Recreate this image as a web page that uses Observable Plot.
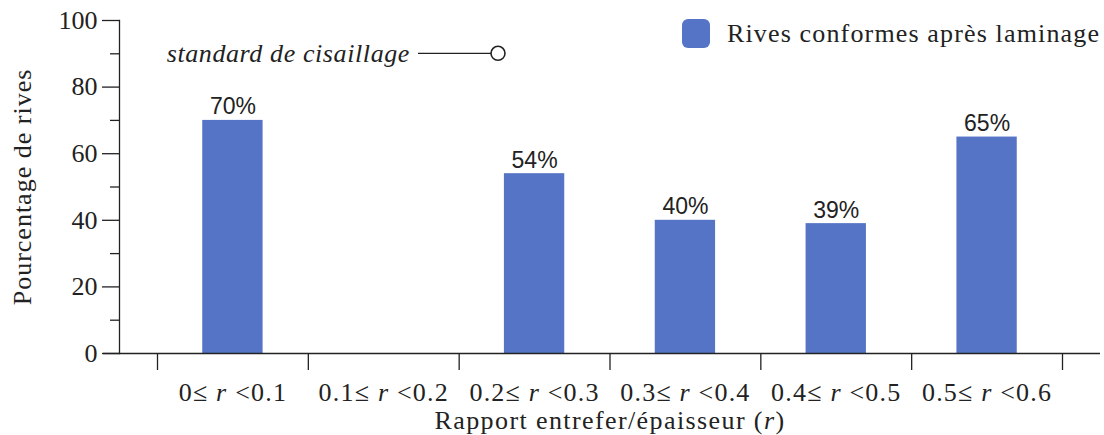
<!DOCTYPE html>
<html><head><meta charset="utf-8">
<script src="https://cdn.jsdelivr.net/npm/d3@7"></script>
<script src="https://cdn.jsdelivr.net/npm/@observablehq/plot@0.6"></script>
<style>
body{margin:0;background:#fff;}
#chart{width:1104px;height:435px;}
#chart svg text{white-space:pre;}
</style></head><body><div id="chart"></div>
<script>
const categories = ["0≤ r <0.1","0.1≤ r <0.2","0.2≤ r <0.3","0.3≤ r <0.4","0.4≤ r <0.5","0.5≤ r <0.6"];
const values = [70, null, 54, 40, 39, 65];
const valueLabels = ["70%", "", "54%", "40%", "39%", "65%"];
const yTicks = [0, 20, 40, 60, 80, 100];
const yMinorTicks = [10, 30, 50, 70, 90];
const seriesName = "Rives conformes après laminage";
const annotationName = "standard de cisaillage";
const annotationValue = 90;
const xLabel = "Rapport entrefer/épaisseur (r)";
const yLabel = "Pourcentage de rives";

const BLUE = "#5574c5";
const INK = "#222";
const SERIF = "'Liberation Serif', 'DejaVu Serif', serif";
const SANS = "'Liberation Sans', Arial, sans-serif";

const data = categories.map((c, i) => ({cat: c, value: values[i], label: valueLabels[i]}));
const barData = data.filter(d => d.value != null);

const xRange = [157, 1062];
const step = (xRange[1] - xRange[0]) / categories.length;

function legendMark(index, scales, values, dims) {
  const g = d3.create("svg:g");
  const ay = scales.y(annotationValue);
  g.append("text").attr("x", 410).attr("y", ay).attr("dy", "0.32em")
    .attr("text-anchor", "end").attr("font-family", SERIF).attr("font-style", "italic")
    .attr("font-size", 26).attr("letter-spacing", 0.6).attr("fill", INK).text(annotationName);
  g.append("line").attr("x1", 418).attr("x2", 491).attr("y1", ay).attr("y2", ay)
    .attr("stroke", INK).attr("stroke-width", 1.3);
  g.append("circle").attr("cx", 498).attr("cy", ay).attr("r", 7)
    .attr("fill", "white").attr("stroke", INK).attr("stroke-width", 1.6);
  g.append("rect").attr("x", 682).attr("y", 19).attr("width", 28).attr("height", 29).attr("rx", 6)
    .attr("fill", BLUE);
  g.append("text").attr("x", 727).attr("y", 34).attr("dy", "0.32em").attr("text-anchor", "start")
    .attr("font-family", SERIF).attr("font-size", 26).attr("letter-spacing", 1.15)
    .attr("fill", INK).text(seriesName);
  return g.node();
}

const chart = Plot.plot({
  width: 1104,
  height: 435,
  marginLeft: 119,
  marginRight: 4,
  marginTop: 20,
  marginBottom: 82,
  style: {background: "white", color: INK},
  x: {type: "band", domain: categories, range: xRange, paddingInner: 0.6, paddingOuter: 0.3, round: false, label: null},
  y: {domain: [0, 100], range: [353, 20], label: null},
  marks: [
    Plot.barY(barData, {x: "cat", y: "value", fill: BLUE}),
    Plot.text(barData, {x: "cat", y: "value", text: "label", dy: -6, lineAnchor: "bottom",
      fontFamily: SANS, fontSize: 23, fill: INK}),
    Plot.ruleY([0], {insetLeft: -16, stroke: INK, strokeWidth: 1.3}),
    Plot.frame({anchor: "left", stroke: INK, strokeWidth: 1.3}),
    Plot.axisY({ticks: yTicks, tickSize: 17, tickPadding: 5, fontSize: 26, fontFamily: SERIF,
      label: null, stroke: INK, strokeWidth: 1.3}),
    Plot.axisY({ticks: yMinorTicks, tickSize: 9, tickFormat: () => "", label: null,
      stroke: INK, strokeWidth: 1.3}),
    Plot.ruleX(categories, {x: d => d, y1: 0, y2: 0, dx: -step / 2, insetBottom: -17,
      stroke: INK, strokeWidth: 1.3}),
    Plot.ruleX(categories.slice(-1), {x: d => d, y1: 0, y2: 0, dx: step / 2, insetBottom: -17,
      stroke: INK, strokeWidth: 1.3}),
    Plot.axisX({tickSize: 0, tickPadding: 29, fontSize: 26, fontFamily: SERIF, label: null}),
    Plot.text([xLabel], {frameAnchor: "bottom", dy: 67, lineAnchor: "middle",
      fontFamily: SERIF, fontSize: 26, fill: INK}),
    Plot.text([yLabel], {frameAnchor: "left", dx: -97, rotate: -90, lineAnchor: "middle",
      textAnchor: "middle", fontFamily: SERIF, fontSize: 26, fill: INK}),
    legendMark
  ]
});

// italicise the variable r inside texts
function italicR(textEl) {
  const s = textEl.textContent;
  let parts;
  if (s.includes(" r ")) {
    const i = s.indexOf(" r ");
    parts = [s.slice(0, i + 1), "r", s.slice(i + 2)];
  } else if (s.includes("(r)")) {
    const i = s.indexOf("(r)");
    parts = [s.slice(0, i + 1), "r", s.slice(i + 2)];
  } else return;
  textEl.textContent = "";
  parts.forEach((p, k) => {
    const t = document.createElementNS("http://www.w3.org/2000/svg", "tspan");
    t.textContent = p;
    if (k === 1) t.setAttribute("font-style", "italic");
    textEl.appendChild(t);
  });
}
chart.querySelectorAll("text").forEach(t => {
  const s = t.textContent;
  if (categories.includes(s)) { t.setAttribute("letter-spacing", 1.2); italicR(t); }
  else if (s === xLabel) { t.setAttribute("letter-spacing", 1.4); italicR(t); }
  else if (s === yLabel) { t.setAttribute("letter-spacing", 1.0); }
});

document.getElementById("chart").appendChild(chart);
</script>
</body></html>
